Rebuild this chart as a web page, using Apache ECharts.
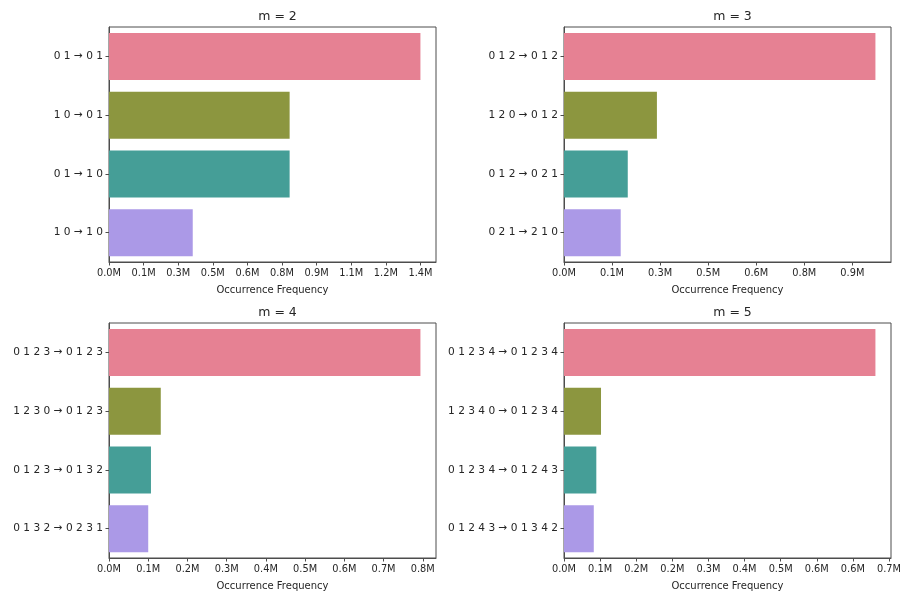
<!DOCTYPE html>
<html>
<head>
<meta charset="utf-8">
<title>Occurrence Frequency by m</title>
<script src="https://cdn.jsdelivr.net/npm/echarts@6/dist/echarts.min.js"></script>
<style>
  html, body { margin: 0; padding: 0; background: #ffffff; }
  #chart { width: 901px; height: 595px; }
</style>
</head>
<body>
<div id="chart"></div>
<script>
// Pattern transitions per subplot (top bar first), counts in millions
const titles = ['m = 2', 'm = 3', 'm = 4', 'm = 5'];

const categoriesM2 = ['0 1 → 0 1', '1 0 → 0 1', '0 1 → 1 0', '1 0 → 1 0'];
const categoriesM3 = ['0 1 2 → 0 1 2', '1 2 0 → 0 1 2', '0 1 2 → 0 2 1', '0 2 1 → 2 1 0'];
const categoriesM4 = ['0 1 2 3 → 0 1 2 3', '1 2 3 0 → 0 1 2 3', '0 1 2 3 → 0 1 3 2', '0 1 3 2 → 0 2 3 1'];
const categoriesM5 = ['0 1 2 3 4 → 0 1 2 3 4', '1 2 3 4 0 → 0 1 2 3 4', '0 1 2 3 4 → 0 1 2 4 3', '0 1 2 4 3 → 0 1 3 4 2'];

const valuesM2 = [1.35, 0.783, 0.783, 0.363];
const valuesM3 = [0.972, 0.290, 0.199, 0.177];
const valuesM4 = [0.794, 0.132, 0.107, 0.100];
const valuesM5 = [0.690, 0.082, 0.0716, 0.066];

// Tick spacing and the printed tick labels of each x axis
const tickStepM2 = 0.15;
const tickStepM3 = 0.15;
const tickStepM4 = 0.10;
const tickStepM5 = 0.08;

const tickLabelsM2 = ['0.0M', '0.1M', '0.3M', '0.5M', '0.6M', '0.8M', '0.9M', '1.1M', '1.2M', '1.4M'];
const tickLabelsM3 = ['0.0M', '0.1M', '0.3M', '0.5M', '0.6M', '0.8M', '0.9M'];
const tickLabelsM4 = ['0.0M', '0.1M', '0.2M', '0.3M', '0.4M', '0.5M', '0.6M', '0.7M', '0.8M'];
const tickLabelsM5 = ['0.0M', '0.1M', '0.2M', '0.2M', '0.3M', '0.4M', '0.5M', '0.6M', '0.6M', '0.7M'];

const barColors = ['#e68193', '#8c963f', '#459e97', '#ab99e7'];

const panels = [
  { cats: categoriesM2, vals: valuesM2, step: tickStepM2, labels: tickLabelsM2 },
  { cats: categoriesM3, vals: valuesM3, step: tickStepM3, labels: tickLabelsM3 },
  { cats: categoriesM4, vals: valuesM4, step: tickStepM4, labels: tickLabelsM4 },
  { cats: categoriesM5, vals: valuesM5, step: tickStepM5, labels: tickLabelsM5 }
];

const gridBoxes = [
  { left: 109, top: 27, width: 327, height: 235 },
  { left: 564, top: 27, width: 327, height: 235 },
  { left: 109, top: 323, width: 327, height: 235 },
  { left: 564, top: 323, width: 327, height: 235 }
];

const FONT = 'DejaVu Sans';
const TEXT = '#262626';
const SPINE = '#4d4d4d';

const option = {
  backgroundColor: '#ffffff',
  animation: false,
  title: gridBoxes.map((g, i) => ({
    text: titles[i],
    left: g.left + g.width / 2,
    top: g.top - 22,
    textAlign: 'center',
    textStyle: { fontFamily: FONT, fontSize: 12.5, fontWeight: 'normal', color: TEXT }
  })),
  grid: gridBoxes.map(g => ({
    left: g.left, top: g.top, width: g.width, height: g.height,
    show: true, borderColor: SPINE, borderWidth: 1, backgroundColor: 'transparent',
    containLabel: false,
    outerBoundsMode: 'none'
  })),
  xAxis: panels.map((p, i) => {
    const maxVal = Math.max(...p.vals);
    const ticks = p.labels.map((_, k) => +(k * p.step).toFixed(6));
    return {
      type: 'value',
      gridIndex: i,
      min: 0,
      max: maxVal * 1.05,
      name: 'Occurrence Frequency',
      nameLocation: 'middle',
      nameGap: 23,
      nameTextStyle: { fontFamily: FONT, fontSize: 10, color: TEXT },
      splitLine: { show: false },
      axisLine: { show: true, lineStyle: { color: SPINE, width: 1 } },
      axisTick: { show: true, length: 3.5, customValues: ticks, lineStyle: { color: SPINE } },
      axisLabel: {
        customValues: ticks,
        fontFamily: FONT, fontSize: 9.8, color: TEXT, margin: 6,
        formatter: v => p.labels[Math.round(v / p.step)] || ''
      }
    };
  }),
  yAxis: panels.map((p, i) => ({
    type: 'category',
    gridIndex: i,
    data: p.cats,
    inverse: true,
    axisLine: { show: true, lineStyle: { color: SPINE, width: 1 } },
    axisTick: { show: true, alignWithLabel: true, length: 3.5, lineStyle: { color: SPINE } },
    axisLabel: { fontFamily: FONT, fontSize: 10.6, color: TEXT, margin: 6 }
  })),
  series: panels.map((p, i) => ({
    type: 'bar',
    xAxisIndex: i,
    yAxisIndex: i,
    barCategoryGap: '20%',
    data: p.vals.map((v, k) => ({ value: v, itemStyle: { color: barColors[k] } }))
  }))
};

const chart = echarts.init(document.getElementById('chart'), null, { renderer: 'canvas' });
chart.setOption(option);
</script>
</body>
</html>
